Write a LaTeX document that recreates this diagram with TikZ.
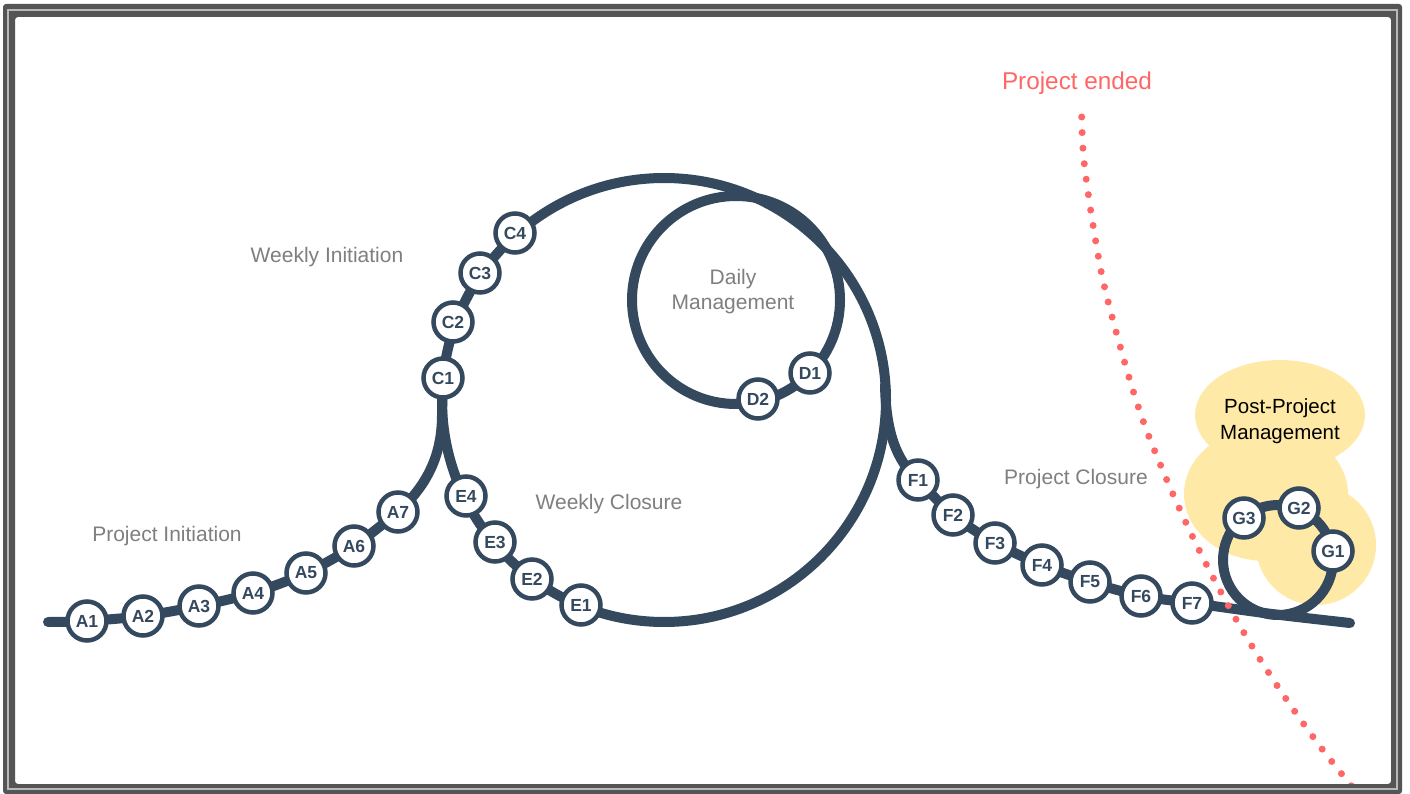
\documentclass[tikz,border=0pt]{standalone}
\usepackage{fontspec}
\setmainfont{Liberation Sans}
\pgfdeclarelayer{cloud}
\pgfdeclarelayer{track}
\pgfsetlayers{cloud,track,main}
\definecolor{navy}{HTML}{34495E}
\definecolor{labelgray}{HTML}{7F7F7F}
\definecolor{endred}{HTML}{FF6666}
\definecolor{cloudyellow}{HTML}{FFE9A6}
\definecolor{framegray}{HTML}{555555}
\tikzset{
  stepnode/.style={circle, draw=navy, line width=4.5pt, fill=white, minimum size=39pt, inner sep=0pt, text=navy, font=\fontsize{17.5}{17.5}\selectfont\bfseries},
  track/.style={draw=navy, line width=10pt, line cap=round},
  phase/.style={text=labelgray, font=\fontsize{21}{25}\selectfont, align=center},
  enddots/.style={endred, line width=7pt, line cap=round, dash pattern=on 0pt off 15.6pt},
}
\begin{document}
\begin{tikzpicture}[x=1pt,y=-1pt]
\useasboundingbox (0,0) rectangle (1410,794);

% background and cloud
\begin{pgfonlayer}{cloud}
\fill[white] (0,0) rectangle (1410,794);
\fill[cloudyellow] (1280,415) ellipse[x radius=85pt, y radius=55pt];
\fill[cloudyellow] (1266,494) ellipse[x radius=82pt, y radius=67pt];
\fill[cloudyellow] (1316,545) ellipse[x radius=60pt, y radius=60pt];
\end{pgfonlayer}

% step nodes
\node[stepnode] (A1) at (87,621) {A1};
\node[stepnode] (A2) at (143,616) {A2};
\node[stepnode] (A3) at (199,606) {A3};
\node[stepnode] (A4) at (253,593) {A4};
\node[stepnode] (A5) at (306,573) {A5};
\node[stepnode] (A6) at (354,546) {A6};
\node[stepnode] (A7) at (398,512) {A7};
\node[stepnode] (C1) at (443,378) {C1};
\node[stepnode] (C2) at (453,322) {C2};
\node[stepnode] (C3) at (480,273) {C3};
\node[stepnode] (C4) at (515,233) {C4};
\node[stepnode] (D1) at (810,373) {D1};
\node[stepnode] (D2) at (758,399) {D2};
\node[stepnode] (E4) at (466,496) {E4};
\node[stepnode] (E3) at (495,542) {E3};
\node[stepnode] (E2) at (532,579) {E2};
\node[stepnode] (E1) at (581,605) {E1};
\node[stepnode] (F1) at (918,480) {F1};
\node[stepnode] (F2) at (953,515) {F2};
\node[stepnode] (F3) at (995,543) {F3};
\node[stepnode] (F4) at (1042,565) {F4};
\node[stepnode] (F5) at (1090,582) {F5};
\node[stepnode] (F6) at (1141,596) {F6};
\node[stepnode] (F7) at (1192,603) {F7};
\node[stepnode] (G1) at (1333,551) {G1};
\node[stepnode] (G2) at (1299,508) {G2};
\node[stepnode] (G3) at (1244,518) {G3};

% track
\begin{pgfonlayer}{track}
\coordinate (start) at (48,622);
\coordinate (merge) at (442,415);
\coordinate (bigc) at (664,400);
\coordinate (smallc) at (736,300);
\coordinate (fsplit) at (885,385);
\coordinate (gbottom) at (1272,614);
\coordinate (finish) at (1350,623);
\coordinate (gc) at (1278,560);
\draw[track] plot[smooth, tension=0.5] coordinates {(start) (A1.center) (A2.center) (A3.center) (A4.center) (A5.center) (A6.center) (A7.center)};
\draw[track] (A7.center) .. controls (425,487) and (442,458) .. (merge) -- (C1.center);
\draw[track] (bigc) circle[radius=222pt];
\draw[track] (smallc) circle[radius=104pt];
\draw[track] (fsplit) .. controls (886,432) and (896,460) .. (F1.center);
\draw[track] plot[smooth, tension=0.5] coordinates {(F1.center) (F2.center) (F3.center) (F4.center) (F5.center) (F6.center) (F7.center) (gbottom) (finish)};
\draw[track] (gc) circle[radius=55pt];
\end{pgfonlayer}

% phase labels
\node[phase] (pi) at (167,536) {Project Initiation};
\node[phase] (wi) at (327,257) {Weekly Initiation};
\node[phase] (dm) at (733,292) {Daily\\Management};
\node[phase] (wc) at (609,504) {Weekly Closure};
\node[phase] (pc) at (1076,479) {Project Closure};
\node[text=black, font=\fontsize{20.5}{26}\selectfont, align=center] (ppm) at (1280,421) {Post-Project\\Management};

% project ended
\node[text=endred, font=\fontsize{24.3}{24.3}\selectfont] (ended) at (1077,83) {Project ended};
\coordinate (e0) at (1081.7,117);
\draw[enddots] plot[smooth, tension=0.6] coordinates {(e0) (1084.3,164) (1095.5,240) (1107.7,300) (1136,400) (1162.3,469.3) (1195,541.7) (1231.7,611.7) (1272.7,679) (1318.3,744) (1358,794)};

% frame
\fill[framegray, even odd rule, rounded corners=3pt] (3,4) rectangle (1402,794) (15,17) rectangle (1391,784);
\draw[gray!55, line width=1.2pt] (8,10) rectangle (1397,789);
\end{tikzpicture}
\end{document}
